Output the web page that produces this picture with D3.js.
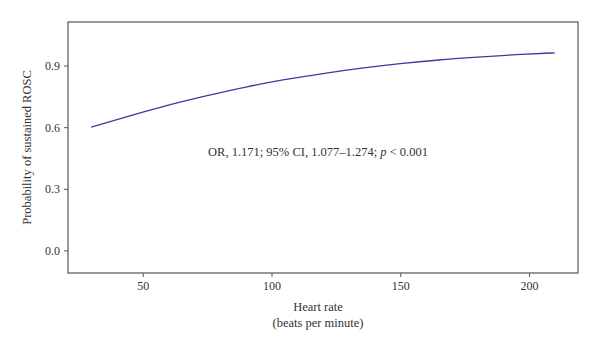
<!DOCTYPE html>
<html>
<head>
<meta charset="utf-8">
<script src="https://cdn.jsdelivr.net/npm/d3@7"></script>
<style>
  body { margin: 0; background: #fff; }
  svg { display: block; }
  text { font-family: "Liberation Serif", "DejaVu Serif", serif; fill: #333; }
</style>
</head>
<body>
<svg id="chart" width="600" height="350"></svg>
<script>
const heartRate = [30, 45, 60, 75, 90, 105, 120, 135, 150, 165, 180, 195, 210];
const probability = [0.600, 0.655, 0.707, 0.753, 0.795, 0.831, 0.861, 0.887, 0.909, 0.927, 0.941, 0.953, 0.962];
const xTicks = [50, 100, 150, 200];
const yTicks = [0.0, 0.3, 0.6, 0.9];
const annotation = ["OR, 1.171; 95% CI, 1.077\u20131.274; ", "p", " < 0.001"];

(function () {
const svg = d3.select("#chart");
const mLeft = 68, mRight = 578, mTop = 22, mBottom = 273;

const x = d3.scaleLinear().domain([21, 219]).range([mLeft, mRight]);
const y = d3.scaleLinear().domain([-0.11, 1.112]).range([mBottom, mTop]);

// frame
svg.append("rect")
  .attr("x", mLeft).attr("y", mTop)
  .attr("width", mRight - mLeft).attr("height", mBottom - mTop)
  .attr("fill", "none").attr("stroke", "#555").attr("stroke-width", 1.2);

const xAxis = svg.append("g").attr("transform", `translate(0,${mBottom})`)
  .call(d3.axisBottom(x).tickValues(xTicks).tickSize(4).tickPadding(4).tickFormat(d3.format("d")));
xAxis.select(".domain").remove();
xAxis.selectAll("line").attr("stroke", "#555");
xAxis.selectAll("text").attr("font-size", 12).attr("font-family", "Liberation Serif, serif").attr("fill", "#333");

const yAxis = svg.append("g").attr("transform", `translate(${mLeft},0)`)
  .call(d3.axisLeft(y).tickValues(yTicks).tickSize(4).tickPadding(4).tickFormat(d3.format(".1f")));
yAxis.select(".domain").remove();
yAxis.selectAll("line").attr("stroke", "#555");
yAxis.selectAll("text").attr("font-size", 12).attr("font-family", "Liberation Serif, serif").attr("fill", "#333");

// line
const pts = heartRate.map((h, i) => [h, probability[i]]);
svg.append("path")
  .datum(pts)
  .attr("fill", "none")
  .attr("stroke", "#3f3a9c")
  .attr("stroke-width", 1.3)
  .attr("d", d3.line().x(d => x(d[0])).y(d => y(d[1])).curve(d3.curveMonotoneX));

// annotation
const ann = svg.append("text")
  .attr("x", 318).attr("y", 156)
  .attr("text-anchor", "middle")
  .attr("font-size", 12.5);
ann.append("tspan").text(annotation[0]);
ann.append("tspan").attr("font-style", "italic").text(annotation[1]);
ann.append("tspan").text(annotation[2]);

// axis titles
svg.append("text")
  .attr("x", 318).attr("y", 311)
  .attr("text-anchor", "middle").attr("font-size", 12.5)
  .text("Heart rate");
svg.append("text")
  .attr("x", 318).attr("y", 327)
  .attr("text-anchor", "middle").attr("font-size", 12.5)
  .text("(beats per minute)");

svg.append("text")
  .attr("transform", `translate(31,${(mTop + mBottom) / 2}) rotate(-90)`)
  .attr("text-anchor", "middle").attr("font-size", 12.5)
  .text("Probability of sustained ROSC");
})();
</script>
</body>
</html>
